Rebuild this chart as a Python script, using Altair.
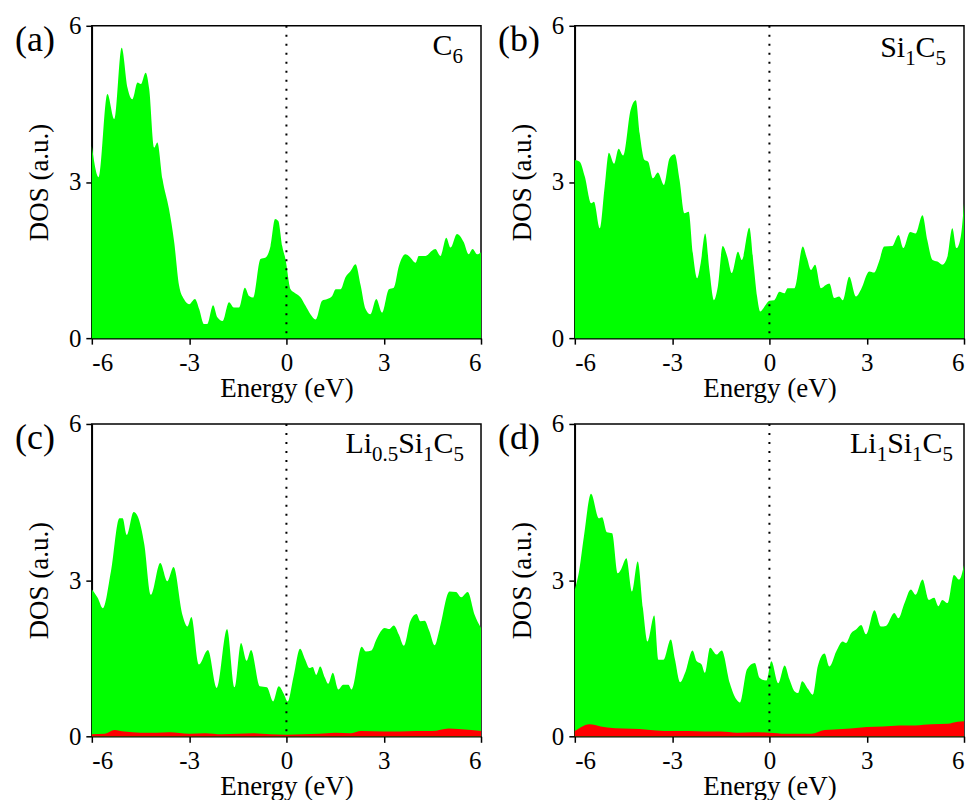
import altair as alt
import pandas as pd

# ---------------- data ----------------
E_a = [-6.0,-5.79,-5.52,-5.31,-5.08,-4.90,-4.75,-4.59,-4.49,-4.34,-4.23,-4.08,-3.98,-3.82,-3.62,-3.46,-3.31,-3.16,-3.00,-2.82,-2.69,-2.54,-2.44,-2.26,-2.13,-1.97,-1.77,-1.62,-1.46,-1.28,-1.15,-1.03,-0.80,-0.64,-0.49,-0.35,-0.25,-0.13,-0.03,0.13,0.23,0.44,0.59,0.74,0.90,1.10,1.26,1.41,1.52,1.67,1.82,1.98,2.13,2.29,2.44,2.59,2.77,2.95,3.16,3.31,3.47,3.67,3.82,3.98,4.08,4.29,4.49,4.59,4.75,4.93,5.06,5.26,5.47,5.62,5.74,5.88,6.0]
DOS_a = [3.69,3.09,4.69,4.21,5.58,4.81,4.59,4.91,4.88,5.10,4.78,3.66,3.76,3.05,2.48,1.84,1.01,0.75,0.65,0.75,0.56,0.27,0.27,0.63,0.40,0.33,0.69,0.59,0.59,0.97,0.81,0.78,1.52,1.55,1.77,2.29,2.25,1.77,1.52,0.94,0.88,0.78,0.62,0.46,0.36,0.72,0.75,0.81,0.94,0.94,1.17,1.29,1.42,1.01,0.56,0.46,0.75,0.49,0.94,0.97,1.39,1.61,1.55,1.45,1.58,1.58,1.68,1.71,1.58,1.93,1.74,2.00,1.84,1.61,1.71,1.61,1.65]

E_b = [-6.0,-5.85,-5.69,-5.49,-5.41,-5.23,-5.08,-4.95,-4.79,-4.65,-4.51,-4.28,-4.12,-4.0,-3.85,-3.74,-3.59,-3.44,-3.25,-3.08,-2.92,-2.77,-2.62,-2.49,-2.36,-2.23,-2.12,-1.98,-1.85,-1.71,-1.59,-1.44,-1.30,-1.16,-0.97,-0.85,-0.62,-0.48,-0.38,-0.28,-0.15,0.0,0.15,0.31,0.46,0.56,0.77,1.03,1.16,1.28,1.41,1.59,1.74,1.85,2.0,2.15,2.26,2.46,2.67,2.82,3.08,3.23,3.38,3.54,3.79,3.98,4.13,4.34,4.51,4.72,4.87,5.03,5.18,5.33,5.49,5.64,5.77,5.90,6.0]
DOS_b = [3.42,3.39,3.10,2.59,2.62,2.11,2.91,3.56,3.35,3.64,3.51,4.38,4.57,3.93,3.42,3.39,3.07,3.18,2.94,3.45,3.53,3.04,2.40,2.43,1.63,1.15,1.44,2.01,1.31,0.73,0.99,1.77,1.57,1.25,1.66,1.50,2.12,1.37,0.80,0.51,0.61,0.72,0.73,0.89,0.86,0.96,0.96,1.76,1.53,1.31,1.41,0.96,1.02,1.05,0.77,0.80,0.73,1.18,0.80,0.93,1.28,1.26,1.47,1.76,1.77,1.98,1.73,2.04,2.01,2.36,1.88,1.50,1.47,1.41,1.57,2.11,1.73,1.95,2.59]

E_c = [-6.0,-5.82,-5.66,-5.41,-5.15,-5.05,-4.92,-4.71,-4.59,-4.38,-4.18,-3.89,-3.67,-3.48,-3.21,-3.05,-2.93,-2.70,-2.42,-2.15,-1.83,-1.60,-1.40,-1.23,-1.09,-0.82,-0.60,-0.41,-0.24,-0.07,0.04,0.22,0.42,0.58,0.71,0.81,0.92,1.04,1.19,1.29,1.43,1.60,1.75,1.91,2.01,2.32,2.45,2.62,2.78,3.03,3.17,3.31,3.47,3.62,3.82,4.01,4.13,4.26,4.41,4.57,4.72,5.03,5.23,5.39,5.59,5.80,6.0]
DOS_c = [2.82,2.66,2.46,3.17,4.19,4.19,3.87,4.31,4.23,3.68,2.72,3.33,2.98,3.25,2.34,2.11,2.29,1.38,1.66,0.93,2.06,0.94,1.79,1.45,1.66,0.96,0.94,0.67,0.96,0.80,0.67,1.15,1.68,1.47,1.31,1.33,1.18,1.34,1.12,1.01,1.22,0.90,0.99,0.99,0.90,1.72,1.63,1.65,1.87,2.08,2.06,2.13,1.95,1.74,2.21,2.35,2.21,2.22,2.02,1.75,2.05,2.78,2.77,2.67,2.77,2.34,2.08]
Er_c = [-6.0,-5.6,-5.3,-5.0,-4.5,-4.0,-3.6,-3.0,-2.5,-2.0,-1.5,-1.0,-0.5,0.0,0.5,1.0,1.5,2.0,2.3,3.0,3.5,4.0,4.5,5.0,5.3,5.7,6.0]
Li_c = [0.04,0.05,0.12,0.09,0.07,0.07,0.08,0.05,0.06,0.04,0.05,0.06,0.04,0.03,0.04,0.05,0.07,0.06,0.10,0.09,0.09,0.10,0.10,0.15,0.14,0.12,0.10]

E_d = [-6.0,-5.88,-5.72,-5.50,-5.26,-5.16,-5.01,-4.85,-4.68,-4.58,-4.41,-4.24,-4.06,-3.90,-3.76,-3.55,-3.42,-3.27,-3.04,-2.91,-2.75,-2.60,-2.37,-2.24,-2.09,-1.99,-1.83,-1.63,-1.47,-1.22,-1.01,-0.91,-0.69,-0.45,-0.30,-0.09,0.06,0.27,0.47,0.62,0.78,0.88,1.01,1.19,1.34,1.49,1.70,1.85,2.06,2.26,2.36,2.52,2.67,2.83,2.98,3.24,3.44,3.59,3.85,3.98,4.16,4.36,4.51,4.72,4.92,5.08,5.21,5.33,5.49,5.69,5.85,6.0]
DOS_d = [2.82,3.13,3.84,4.66,4.19,4.21,3.92,3.90,3.13,3.20,3.42,2.78,3.36,2.46,1.82,2.32,1.47,1.47,1.86,1.47,1.04,1.22,1.65,1.44,1.38,1.22,1.70,1.57,1.65,1.02,0.70,0.65,1.29,1.41,1.12,1.07,1.44,1.02,1.36,1.09,0.86,0.83,1.06,0.91,0.80,1.34,1.59,1.34,1.63,1.82,1.79,1.98,2.05,2.14,1.96,2.42,2.11,2.12,2.37,2.27,2.55,2.82,2.72,3.01,2.62,2.66,2.50,2.62,2.56,3.10,3.01,3.29]
Er_d = [-6.0,-5.8,-5.55,-5.2,-5.0,-4.5,-4.0,-3.5,-3.0,-2.5,-2.0,-1.5,-1.0,-0.5,0.0,0.5,1.0,1.3,1.7,2.0,2.5,3.0,3.5,4.0,4.5,5.0,5.5,5.8,6.0]
Li_d = [0.10,0.18,0.23,0.19,0.17,0.15,0.14,0.11,0.10,0.10,0.09,0.09,0.07,0.08,0.07,0.05,0.05,0.05,0.12,0.13,0.15,0.18,0.19,0.21,0.21,0.23,0.24,0.28,0.29]

X_TICKS = [-6, -3, 0, 3, 6]
Y_TICKS = [0, 3, 6]
PANEL_TAGS = ["(a)", "(b)", "(c)", "(d)"]
# formula pieces: (text, is_subscript)
FORMULAS = [
    [("C", False), ("6", True)],
    [("Si", False), ("1", True), ("C", False), ("5", True)],
    [("Li", False), ("0.5", True), ("Si", False), ("1", True), ("C", False), ("5", True)],
    [("Li", False), ("1", True), ("Si", False), ("1", True), ("C", False), ("5", True)],
]

FONT = "Liberation Serif"
GREEN = "#00FF00"
RED = "#FF0000"
W, H = 390, 313
MAIN, SUB = 30, 21
# Times / Liberation Serif advance widths (em)
ADV = {"C": 0.667, "S": 0.556, "i": 0.278, "L": 0.611, ".": 0.25,
       "0": 0.5, "1": 0.5, "5": 0.5, "6": 0.5}

one = pd.DataFrame({"k": [0]})


def txt(s, x, y, size):
    return alt.Chart(one).mark_text(
        text=s, align="left", baseline="alphabetic", font=FONT,
        fontSize=size, color="black"
    ).encode(x=alt.value(x), y=alt.value(y))


def formula(pieces, right, base):
    widths = [sum(ADV[c] for c in s) * (SUB if sub else MAIN) for s, sub in pieces]
    x = right - sum(widths)
    layers = []
    for (s, sub), w in zip(pieces, widths):
        layers.append(txt(s, round(x, 1), base + 8 if sub else base, SUB if sub else MAIN))
        x += w
    return layers


AX_STYLE = dict(
    grid=False, domainColor="black", domainWidth=1.5, tickColor="black", tickWidth=1.5, tickSize=6,
    labelFont=FONT, labelFontSize=25, labelColor="black", labelExpr="datum.value + ''",
    titleFont=FONT, titleFontSize=27, titleFontWeight="normal", titleColor="black",
    titleBaseline="alphabetic",
)


def panel(E, D, tag, pieces, right, base, Er=None, R=None):
    xs = alt.Scale(domain=[-6, 6], nice=False, zero=False)
    ys = alt.Scale(domain=[0, 6], nice=False)
    xax = alt.Axis(values=X_TICKS, title="Energy (eV)", titleY=58, labelPadding=6, **AX_STYLE)
    yax = alt.Axis(values=Y_TICKS, title="DOS (a.u.)", titleX=-44, labelPadding=5, **AX_STYLE)
    df = pd.DataFrame({"E": E, "DOS": D})
    green = alt.Chart(df).mark_area(color=GREEN, interpolate="monotone", opacity=1).encode(
        x=alt.X("E:Q", scale=xs, axis=xax),
        y=alt.Y("DOS:Q", scale=ys, axis=yax, stack=None),
    )
    layers = [green]
    if Er is not None:
        dr = pd.DataFrame({"E": Er, "DOS": R})
        layers.append(alt.Chart(dr).mark_area(color=RED, interpolate="monotone", opacity=1).encode(
            x=alt.X("E:Q", scale=xs, axis=xax),
            y=alt.Y("DOS:Q", scale=ys, axis=yax, stack=None),
        ))
    rule = alt.Chart(one).mark_rule(color="black", strokeDash=[2, 7], strokeWidth=2).encode(
        x=alt.datum(0, scale=xs)
    )
    layers.append(rule)
    layers.append(txt(tag, -77, 25, 36))
    layers += formula(pieces, right, base)
    return alt.layer(*layers).properties(width=W, height=H)


pa = panel(E_a, DOS_a, PANEL_TAGS[0], FORMULAS[0], 372, 29)
pb = panel(E_b, DOS_b, PANEL_TAGS[1], FORMULAS[1], 372, 31)
pc = panel(E_c, DOS_c, PANEL_TAGS[2], FORMULAS[2], 373, 29, Er_c, Li_c)
pd_ = panel(E_d, DOS_d, PANEL_TAGS[3], FORMULAS[3], 379, 29, Er_d, Li_d)

chart = alt.concat(pa, pb, pc, pd_, columns=2, spacing={"row": 86, "column": 94}, bounds="flush").properties(
    padding={"left": 6, "top": 4, "right": 0, "bottom": 0}
).configure_view(
    stroke="black", strokeWidth=1.5
)

chart.save("out.html", embed_options={"renderer": "svg", "actions": False})
